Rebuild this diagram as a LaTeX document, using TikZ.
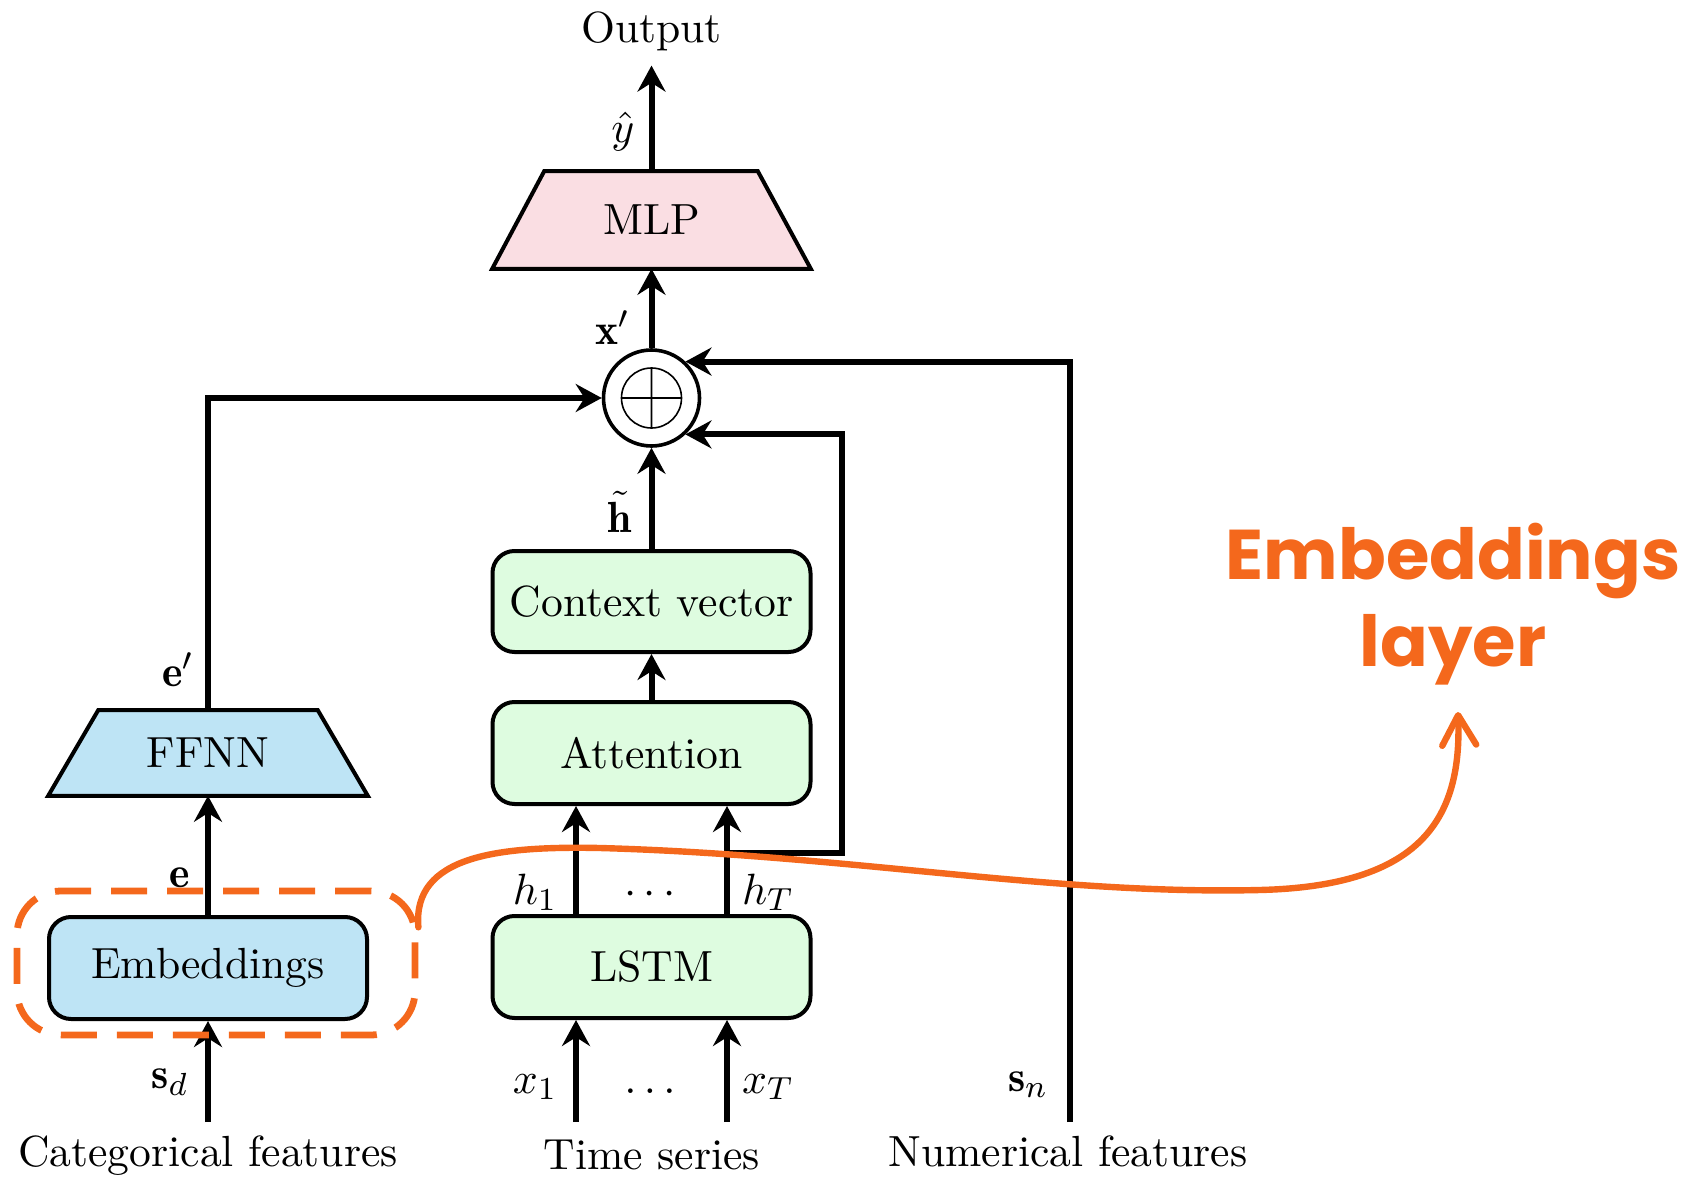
\documentclass[tikz,border=0pt]{standalone}
\usepackage{fontspec}
\usetikzlibrary{arrows.meta,calc,backgrounds}
\newfontfamily\annfont{Poppins}
\definecolor{mlpfill}{RGB}{250,222,227}
\definecolor{bluefill}{RGB}{190,228,245}
\definecolor{greenfill}{RGB}{222,252,224}
\definecolor{hiorange}{RGB}{244,104,28}
\begin{document}
\begin{tikzpicture}[x=0.25pt,y=-0.25pt,
  font=\fontsize{10.9}{13}\selectfont,
  conn/.style={line width=1.5pt,-{Stealth[length=6.5pt,width=7pt,inset=2.2pt]}},
  blk/.style={draw,line width=1pt,rounded corners=5.5pt,minimum width=79.5pt,
    minimum height=25.5pt,inner sep=0pt},
  trapbox/.style={minimum width=79.5pt,inner sep=0pt},
  trapedge/.style={draw,line width=1pt,line join=miter},
  lbl/.style={anchor=base,inner sep=0pt}]
\useasboundingbox (0,0) rectangle (1703,1177);

% sequence branch
\node[blk,fill=greenfill] (lstm) at (651.5,967) {LSTM};
\node[blk,fill=greenfill] (att) at (651.5,753) {Attention};
\node[blk,fill=greenfill,minimum height=25.25pt] (ctx) at (651.5,601.5) {Context vector};

% categorical branch
\node[blk,fill=bluefill] (emb) at (208,968) {Embeddings};
\node[trapbox,minimum height=21pt] (ffnn) at (208,753) {FFNN};

% head
\node[trapbox,minimum width=79.25pt,minimum height=24pt] (mlp) at (651.5,220) {MLP};
\node[circle,draw,line width=0.9pt,minimum size=24pt,inner sep=0pt,fill=white] (circ) at (651.5,398) {};
\draw[line width=0.4pt] (circ.center) circle (7.5pt)
  ($(circ.center)+(-7.5pt,0)$) -- ($(circ.center)+(7.5pt,0)$)
  ($(circ.center)+(0,-7.5pt)$) -- ($(circ.center)+(0,7.5pt)$);
\node[anchor=base] (out) at (651.5,43) {Output};

% trapezium outlines behind their labels
\begin{scope}[on background layer]
  \draw[trapedge,fill=mlpfill] ([xshift=13pt]mlp.north west) -- ([xshift=-13.25pt]mlp.north east)
    -- (mlp.south east) -- (mlp.south west) -- cycle;
  \draw[trapedge,fill=bluefill] ([xshift=12.5pt]ffnn.north west) -- ([xshift=-12.5pt]ffnn.north east)
    -- (ffnn.south east) -- (ffnn.south west) -- cycle;
\end{scope}

% free ends of the inputs
\coordinate (sd) at (208,1122);
\coordinate (xa) at (576,1122);
\coordinate (xb) at (727,1122);
\coordinate (sn) at (1070,1122);
\coordinate (hb) at (842,853);

% connectors
\draw[conn] (mlp.north) -- (out.south);
\draw[conn] (circ.north) -- (mlp.south);
\draw[conn] (ctx.north) -- (circ.south);
\draw[conn] (att.north) -- (ctx.south);
\draw[conn] (xa |- lstm.north) -- (xa |- att.south);
\draw[conn] (xb |- lstm.north) -- (xb |- att.south);
\draw[conn] (xa) -- (xa |- lstm.south);
\draw[conn] (xb) -- (xb |- lstm.south);
\draw[conn] (xb |- hb) -- (hb) |- (circ.-47);
\draw[conn] (sn) |- (circ.47);
\draw[conn] (sd) -- (emb.south);
\draw[conn] (emb.north) -- (ffnn.south);
\draw[conn] (ffnn.north) |- (circ.west);

% labels
\node[lbl] (lyhat) at (623,143) {$\hat{y}$};
\node[lbl] (lxp) at (613,344) {$\mathbf{x}'$};
\node[lbl] (lht) at (620,532) {$\tilde{\mathbf{h}}$};
\node[lbl] (lep) at (178,686) {$\mathbf{e}'$};
\node[lbl] (le) at (180,887) {$\mathbf{e}$};
\node[lbl] (lsd) at (170,1088) {$\mathbf{s}_d$};
\node[lbl] (lsn) at (1028,1091) {$\mathbf{s}_n$};
\node[lbl] (lh1) at (535,904) {$h_1$};
\node[lbl] (lhT) at (768,904) {$h_T$};
\node[lbl] (lhd) at (650,904) {$\cdots$};
\node[lbl] (lx1) at (535,1093) {$x_1$};
\node[lbl] (lxT) at (768,1093) {$x_T$};
\node[lbl] (lxd) at (650,1093) {$\ldots$};
\node[lbl] (tcat) at (208,1166) {Categorical features};
\node[lbl] (tts) at (652,1169) {Time series};
\node[lbl] (tnum) at (1068,1166) {Numerical features};

% highlight of the embeddings layer
\node[draw=hiorange,line width=1.7pt,dash pattern=on 9pt off 5pt,rounded corners=11pt,
  minimum width=99.5pt,minimum height=36pt,inner sep=0pt] (embgrp) at (216,963) {};
\node[text=hiorange,font=\annfont\bfseries\fontsize{17.6}{21.8}\selectfont,align=center,
  inner sep=0pt] (annot) at (1453,604) {Embeddings\\layer};
\coordinate (tip) at (1458,712);
\draw[hiorange,line width=1.6pt,line cap=round,-{Straight Barb[length=7.5pt,width=8.5pt,round]}]
  (embgrp.10) .. controls (412,855) and (500,846) .. (600,848)
  .. controls (850,855) and (1050,895) .. (1260,890)
  .. controls (1420,886) and (1462,820) .. (tip);
\end{tikzpicture}
\end{document}
